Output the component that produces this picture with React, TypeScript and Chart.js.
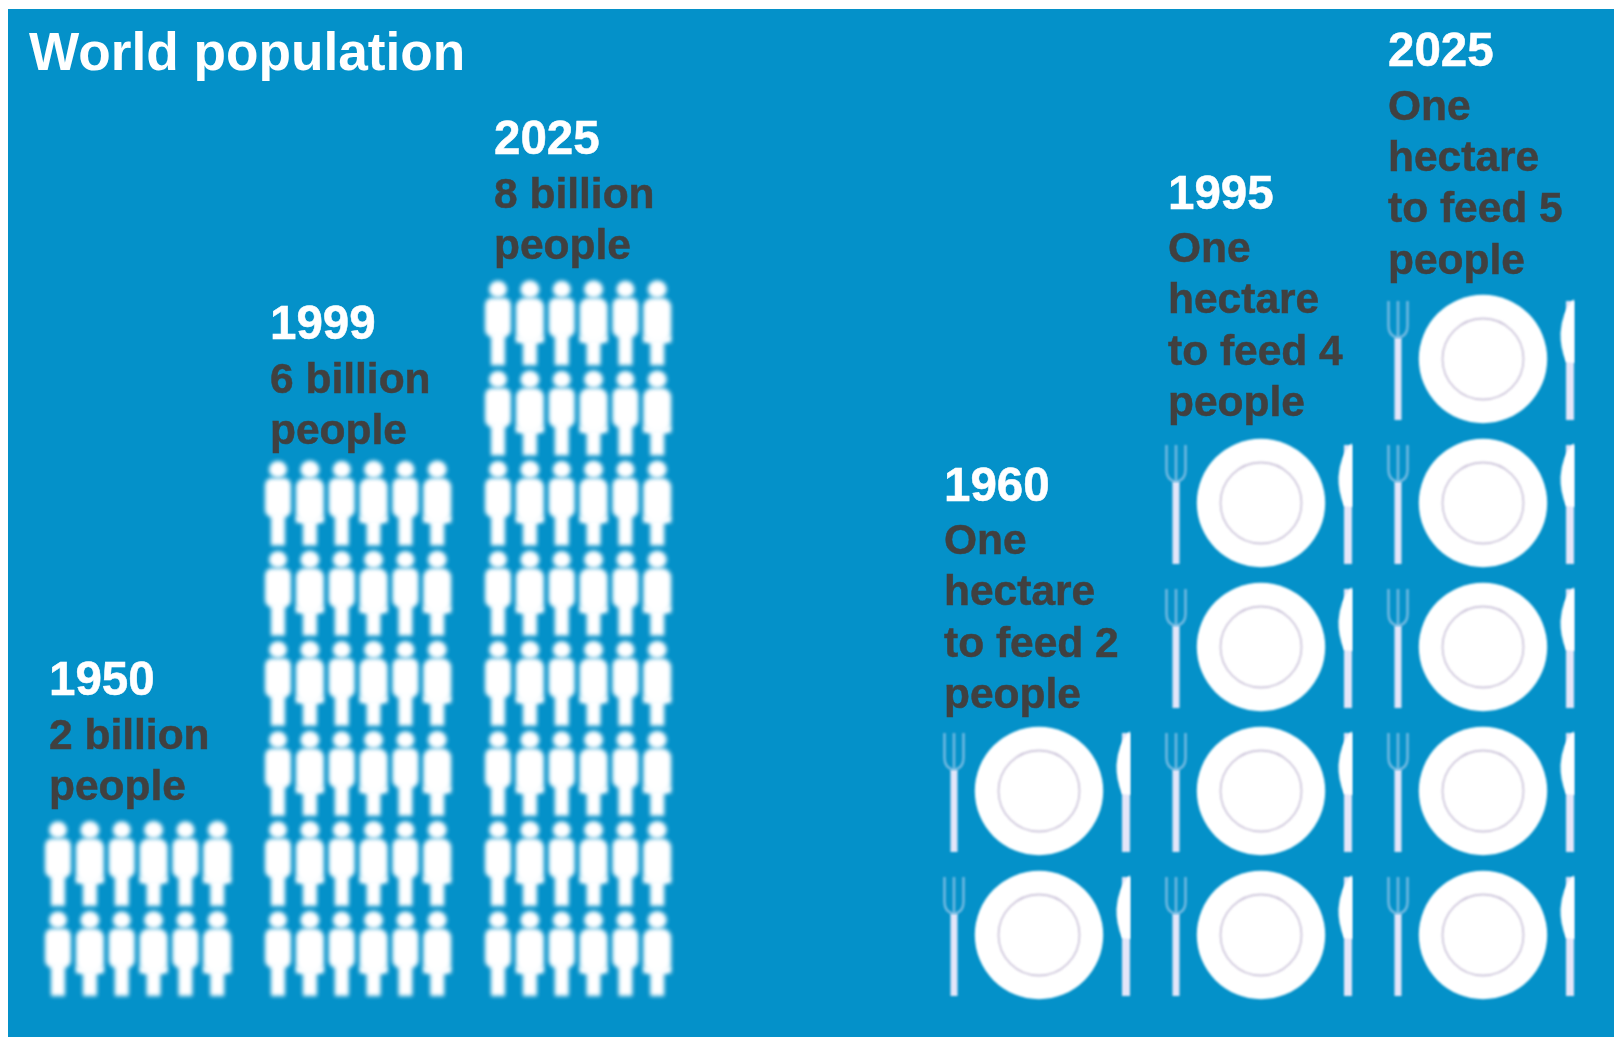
import React, { useEffect, useRef } from "react";
import { Chart, registerables } from "chart.js";

Chart.register(...registerables);

// Figures behind the two pictograms
const populationYears = ["1950", "1999", "2025"];
const populationBillions = [2, 6, 8];
const populationCaptions = [
  ["2 billion", "people"],
  ["6 billion", "people"],
  ["8 billion", "people"],
];

const hectareYears = ["1960", "1995", "2025"];
const peoplePerHectare = [2, 4, 5];
const hectareCaptions = [
  ["One", "hectare", "to feed 2", "people"],
  ["One", "hectare", "to feed 4", "people"],
  ["One", "hectare", "to feed 5", "people"],
];

const TITLE = "World population";
const FIGURES_PER_BILLION = 6;

// Panel geometry, in pixels
const WIDTH = 1606;
const HEIGHT = 1028;
const PAD_LEFT = 21;
const TITLE_SIZE = 53.2;
const TITLE_TOP = 14;
const PAD_BOTTOM = 38.45;
const TITLE_BOX = TITLE_TOP + TITLE_SIZE * 1.2;
const AREA_W = WIDTH - PAD_LEFT;
const AREA_H = HEIGHT - PAD_BOTTOM - TITLE_BOX;
const COLUMN = 31.85;
const PERSON_ROW = 90.1;
const PLATE_ROW = 144;
const PLATE_BASE_OFFSET = 8.45;

// Column-unit offsets of each pictogram group on the x axis
const PEOPLE_START = (50 - PAD_LEFT) / COLUMN;
const PEOPLE_STRIDE = 220 / COLUMN;
const PLATES_START = (1031 - PAD_LEFT) / COLUMN;
const PLATES_STRIDE = 222 / COLUMN;

// Caption block placement relative to the top of each stack
const peopleCaptionGap = [18.5, 13.75, 18.75];
const plateCaptionGap = [11, 15, 13.5];
const peopleCaptionInset = [9, 8, 4];
const plateCaptionInset = [95, 93, 95];
const LINE = 51.3;
const YEAR_EXTRA = 2.2;
const YEAR_SIZE = 47.5;
const CAPTION_SIZE = 42.5;
const TEXT_WEIGHT = 0.5;

const PANEL = "#0491c9";
const INK = "#404040";
const FONT = '"Liberation Sans", Arial, sans-serif';

function iconCanvas(w: number, h: number, blur: number, paint: (c: CanvasRenderingContext2D) => void) {
  const el = document.createElement("canvas");
  el.width = w;
  el.height = h;
  const c = el.getContext("2d")!;
  c.filter = `blur(${blur}px)`;
  c.translate(w / 2, h / 2);
  paint(c);
  return el;
}

// Figure with straight trousers
function manIcon() {
  return iconCanvas(48, 100, 2.1, (c) => {
    c.fillStyle = "#fff";
    c.beginPath();
    c.ellipse(0, -33.5, 9, 8.5, 0, 0, Math.PI * 2);
    c.fill();
    c.beginPath();
    c.roundRect(-13, -25, 26, 39, 7);
    c.fill();
    c.fillRect(-7, 8, 14, 34.5);
  });
}

// Figure with a flared hem
function womanIcon() {
  return iconCanvas(48, 100, 2.1, (c) => {
    c.fillStyle = "#fff";
    c.beginPath();
    c.ellipse(0, -33.5, 9.5, 9, 0, 0, Math.PI * 2);
    c.fill();
    c.beginPath();
    c.roundRect(-14, -25, 28, 44, 9);
    c.fill();
    c.fillRect(-14, 13, 28, 7);
    c.fillRect(-7, 16, 14, 26.5);
  });
}

function plateIcon() {
  return iconCanvas(220, 144, 1.2, (c) => {
    // plate and its inner ring
    c.fillStyle = "#fff";
    c.beginPath();
    c.arc(0, 0, 64.2, 0, Math.PI * 2);
    c.fill();
    c.strokeStyle = "#cfc8dc";
    c.lineWidth = 1.8;
    c.beginPath();
    c.arc(0, 0, 40.5, 0, Math.PI * 2);
    c.stroke();

    // fork
    c.strokeStyle = "rgba(200,218,246,0.55)";
    c.lineWidth = 2.6;
    c.beginPath();
    c.moveTo(-94.5, -58);
    c.lineTo(-94.5, -33);
    c.quadraticCurveTo(-94.5, -23, -85, -21);
    c.quadraticCurveTo(-75.5, -23, -75.5, -33);
    c.lineTo(-75.5, -58);
    c.moveTo(-85, -58);
    c.lineTo(-85, -21);
    c.stroke();
    c.fillStyle = "#e4e6f9";
    c.fillRect(-88.5, -21, 7, 82);

    // knife
    c.fillRect(83, -58, 8, 119);
    c.fillStyle = "#fff";
    c.beginPath();
    c.moveTo(91, -60);
    c.lineTo(91, 4);
    c.lineTo(83, 3);
    c.quadraticCurveTo(77, -12, 77.5, -26);
    c.quadraticCurveTo(79, -48, 91, -60);
    c.closePath();
    c.fill();
  });
}

const peopleX = (group: number, col: number) => PEOPLE_START + group * PEOPLE_STRIDE + col;
const platesX = (group: number) => PLATES_START + group * PLATES_STRIDE;

function peoplePoints(parity: number) {
  const pts: { x: number; y: number }[] = [];
  populationBillions.forEach((billions, g) => {
    for (let row = 0; row < billions; row++) {
      for (let col = 0; col < FIGURES_PER_BILLION; col++) {
        if (col % 2 === parity) pts.push({ x: peopleX(g, col), y: row + 0.5 });
      }
    }
  });
  return pts;
}

function platePoints() {
  const pts: { x: number; y: number }[] = [];
  peoplePerHectare.forEach((count, g) => {
    for (let row = 0; row < count; row++) pts.push({ x: platesX(g), y: row + 0.5 });
  });
  return pts;
}

// Writes the year and caption above each stack, last line closest to the icons
const captionsPlugin = {
  id: "stackCaptions",
  afterDatasetsDraw(chart: any) {
    const { ctx, scales } = chart;
    const put = (text: string, x: number, y: number, color: string) => {
      ctx.fillStyle = color;
      ctx.strokeStyle = color;
      ctx.lineWidth = TEXT_WEIGHT;
      ctx.fillText(text, x, y);
      ctx.strokeText(text, x, y);
    };
    const block = (x: number, bottom: number, year: string, lines: string[]) => {
      ctx.save();
      ctx.textAlign = "left";
      ctx.textBaseline = "alphabetic";
      ctx.font = `bold ${CAPTION_SIZE}px ${FONT}`;
      lines.forEach((line, i) => put(line, x, bottom - (lines.length - 1 - i) * LINE, INK));
      ctx.font = `bold ${YEAR_SIZE}px ${FONT}`;
      put(year, x, bottom - lines.length * LINE - YEAR_EXTRA, "#fff");
      ctx.restore();
    };
    populationYears.forEach((year, g) => {
      const x = scales.x.getPixelForValue(peopleX(g, 0)) - peopleCaptionInset[g];
      const top = scales.yPeople.getPixelForValue(populationBillions[g]);
      block(x, top - peopleCaptionGap[g], year, populationCaptions[g]);
    });
    hectareYears.forEach((year, g) => {
      const x = scales.x.getPixelForValue(platesX(g)) - plateCaptionInset[g];
      const top = scales.yPlates.getPixelForValue(peoplePerHectare[g]);
      block(x, top - plateCaptionGap[g], year, hectareCaptions[g]);
    });
  },
};

export default function App() {
  const ref = useRef<HTMLCanvasElement>(null);

  useEffect(() => {
    const chart = new Chart(ref.current!, {
      type: "scatter",
      data: {
        datasets: [
          { label: "People", data: peoplePoints(0), pointStyle: manIcon() as any, yAxisID: "yPeople", clip: false as any },
          { label: "People", data: peoplePoints(1), pointStyle: womanIcon() as any, yAxisID: "yPeople", clip: false as any },
          { label: "Hectare", data: platePoints(), pointStyle: plateIcon() as any, yAxisID: "yPlates", clip: false as any },
        ],
      },
      options: {
        animation: false,
        responsive: false,
        layout: { autoPadding: false, padding: { left: PAD_LEFT, right: 0, top: 0, bottom: PAD_BOTTOM } },
        scales: {
          x: { type: "linear", display: false, min: 0, max: AREA_W / COLUMN },
          yPeople: { type: "linear", display: false, min: 0, max: AREA_H / PERSON_ROW },
          yPlates: {
            type: "linear",
            display: false,
            min: PLATE_BASE_OFFSET / PLATE_ROW,
            max: (AREA_H + PLATE_BASE_OFFSET) / PLATE_ROW,
          },
        },
        plugins: {
          legend: { display: false },
          tooltip: { enabled: false },
          title: {
            display: true,
            text: TITLE,
            align: "start",
            color: "#fff",
            font: { family: FONT, size: TITLE_SIZE, weight: "bold", lineHeight: 1.2 },
            padding: { top: TITLE_TOP, bottom: 0 },
          },
        },
      },
      plugins: [captionsPlugin],
    });
    return () => chart.destroy();
  }, []);

  return (
    <div style={{ position: "absolute", left: 8, top: 9, width: WIDTH, height: HEIGHT, background: PANEL }}>
      <canvas ref={ref} width={WIDTH} height={HEIGHT} style={{ display: "block" }} />
    </div>
  );
}
